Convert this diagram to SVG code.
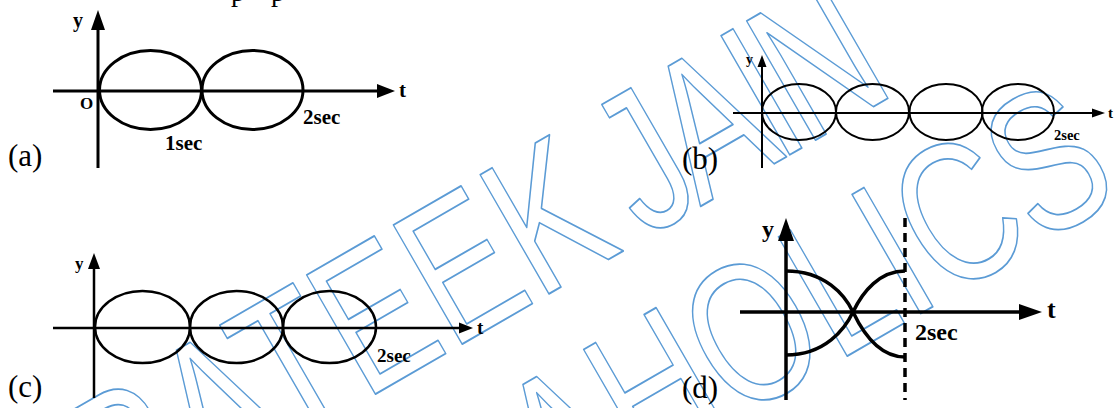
<svg xmlns="http://www.w3.org/2000/svg" width="1117" height="408" viewBox="0 0 1117 408">
<style>
.ax{stroke:#000;fill:none}
.cv{stroke:#000;fill:none}
.ah{fill:#000;stroke:none}
.lb{font-family:"Liberation Serif","Times New Roman",serif;font-weight:bold;fill:#000}
.pl{font-family:"Liberation Serif","Times New Roman",serif;font-size:31px;fill:#000}
.tp{font-family:"Liberation Serif","Times New Roman",serif;font-size:28px;fill:#000}
.wm{font-family:"Liberation Sans",Arial,sans-serif;font-size:200px;fill:none;stroke:#5b9bd5;stroke-width:1.8;stroke-linejoin:round}
</style>
<rect width="1117" height="408" fill="#fff"/>
<g id="watermark">
<g transform="rotate(-30)">
<text class="wm" transform="scale(0.75,1)" x="-364" y="529">PRATEEK</text>
<text class="wm" transform="scale(0.75,1)" x="585" y="529" letter-spacing="-14">JAIN</text>
<text class="wm" transform="scale(0.75,1)" x="-587" y="732">PHYSICSAHOLICS</text>
</g>
</g>
<g id="top-text">
<text class="tp" x="231" y="1">p</text>
<text class="tp" x="271" y="1">p</text>
</g>
<g id="panel-a">
<line class="ax" x1="98" y1="168" x2="98" y2="26" stroke-width="3"/>
<polygon class="ah" points="98,10 91,30 105,30"/>
<line class="ax" x1="53" y1="91" x2="382" y2="91" stroke-width="3"/>
<polygon class="ah" points="395,91 377,84 377,98"/>
<ellipse class="cv" cx="150.5" cy="90" rx="51" ry="39.5" stroke-width="3"/>
<ellipse class="cv" cx="252.5" cy="90" rx="50.5" ry="39.5" stroke-width="3"/>
<text class="lb" x="73" y="27" font-size="20">y</text>
<text class="lb" x="399" y="97" font-size="21">t</text>
<text class="lb" x="80" y="109" font-size="17">O</text>
<text class="lb" x="165" y="150" font-size="21">1sec</text>
<text class="lb" x="303" y="124" font-size="21">2sec</text>
<text class="pl" x="8" y="166">(a)</text>
</g>
<g id="panel-b">
<line class="ax" x1="762" y1="168" x2="762" y2="62" stroke-width="2"/>
<polygon class="ah" points="762,55 757.5,67 766.5,67"/>
<line class="ax" x1="733" y1="113" x2="1095" y2="113" stroke-width="2"/>
<polygon class="ah" points="1105,113 1092,108.5 1092,117.5"/>
<ellipse class="cv" cx="799" cy="112" rx="37" ry="28" stroke-width="2"/>
<ellipse class="cv" cx="872.5" cy="112" rx="36.5" ry="28" stroke-width="2"/>
<ellipse class="cv" cx="946" cy="112" rx="36.5" ry="28" stroke-width="2"/>
<ellipse class="cv" cx="1018" cy="112" rx="36" ry="28" stroke-width="2"/>
<text class="lb" x="746" y="64" font-size="14">y</text>
<text class="lb" x="1108" y="118" font-size="15">t</text>
<text class="lb" x="1054" y="140" font-size="14.5">2sec</text>
<text class="pl" x="682" y="169">(b)</text>
</g>
<g id="panel-c">
<line class="ax" x1="94" y1="398" x2="94" y2="264" stroke-width="2.5"/>
<polygon class="ah" points="94,253 88,269 100,269"/>
<line class="ax" x1="53" y1="328" x2="462" y2="328" stroke-width="2.5"/>
<polygon class="ah" points="473,328 459,322.5 459,333.5"/>
<ellipse class="cv" cx="142.5" cy="327" rx="47.5" ry="36" stroke-width="2.5"/>
<ellipse class="cv" cx="236.5" cy="327" rx="46.5" ry="36" stroke-width="2.5"/>
<ellipse class="cv" cx="329.5" cy="327" rx="46.5" ry="36" stroke-width="2.5"/>
<text class="lb" x="75" y="269" font-size="17">y</text>
<text class="lb" x="477" y="334" font-size="19">t</text>
<text class="lb" x="377" y="362" font-size="19">2sec</text>
<text class="pl" x="8" y="397">(c)</text>
</g>
<g id="panel-d">
<line class="ax" x1="786" y1="400" x2="786" y2="236" stroke-width="3.5"/>
<polygon class="ah" points="786,218 778,241 794,241"/>
<line class="ax" x1="740" y1="312" x2="1024" y2="312" stroke-width="3.5"/>
<polygon class="ah" points="1042,312 1019,304 1019,320"/>
<line class="ax" x1="905" y1="218" x2="905" y2="400" stroke-width="3.5" stroke-dasharray="9 6"/>
<path class="cv" d="M786,271 C825,271 845,295 853,312 C863,333 880,357 905,357" stroke-width="3.5"/>
<path class="cv" d="M786,355 C825,355 845,329 853,312 C863,291 880,271 905,271" stroke-width="3.5"/>
<text class="lb" x="762" y="237" font-size="24">y</text>
<text class="lb" x="1047" y="318" font-size="26">t</text>
<text class="lb" x="915" y="340" font-size="24">2sec</text>
<text class="pl" x="682" y="398">(d)</text>
</g>
</svg>
